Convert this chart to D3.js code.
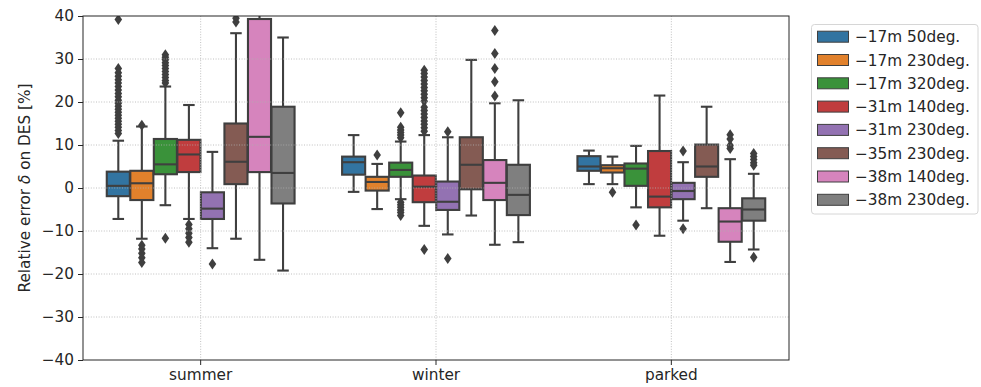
<!DOCTYPE html>
<html><head><meta charset="utf-8">
<script src="https://cdn.jsdelivr.net/npm/d3@7"></script>
<style>body{margin:0;background:#fff;} text{font-family:"DejaVu Sans",sans-serif;}</style>
</head><body>
<svg id="chart" width="981" height="387"></svg>
<script>
const categories = ["summer", "winter", "parked"];
const series = ["\u221217m 50deg.", "\u221217m 230deg.", "\u221217m 320deg.", "\u221231m 140deg.", "\u221231m 230deg.", "\u221235m 230deg.", "\u221238m 140deg.", "\u221238m 230deg."];
const colors = ["#3274a1", "#e1812c", "#3a923a", "#c03d3e", "#9372b2", "#845b53", "#d684bd", "#7f7f7f"];
const yTicks = [-40, -30, -20, -10, 0, 10, 20, 30, 40];

// [whiskerLow, q1, median, q3, whiskerHigh] per category per series
const summerStats = [
  [-7.2, -1.9, 0.5, 3.8, 11.0],
  [-11.8, -2.8, 1.1, 4.0, 14.3],
  [-4.0, 3.2, 5.5, 11.4, 23.6],
  [-7.2, 3.7, 7.8, 11.2, 19.3],
  [-14.0, -7.2, -4.8, -1.0, 8.4],
  [-11.8, 0.9, 6.1, 15.0, 36.0],
  [-16.7, 3.7, 11.9, 39.3, 41.0],
  [-19.2, -3.6, 3.5, 18.9, 35.0]
];
const winterStats = [
  [-0.9, 3.1, 6.0, 7.3, 12.3],
  [-4.9, -0.6, 1.4, 2.6, 5.6],
  [-2.6, 2.6, 4.2, 5.9, 10.8],
  [-8.8, -3.3, 0.3, 2.9, 12.3],
  [-10.8, -5.1, -3.2, 1.5, 11.8],
  [-6.4, -0.3, 5.4, 11.8, 29.8],
  [-13.2, -2.8, 1.2, 6.5, 19.7],
  [-12.6, -6.3, -1.6, 5.4, 20.4]
];
const parkedStats = [
  [0.9, 4.0, 5.0, 7.4, 8.7],
  [0.9, 3.6, 4.6, 5.3, 7.3],
  [-4.5, 0.5, 4.5, 5.7, 9.8],
  [-11.1, -4.5, -2.0, 8.6, 21.5],
  [-7.6, -2.6, -0.7, 1.2, 6.0],
  [-4.7, 2.6, 5.0, 10.1, 18.9],
  [-17.2, -12.5, -7.8, -4.7, 6.7],
  [-14.3, -7.6, -5.0, -2.4, 3.3]
];
const summerOutliers = [
  [39.2, 27.8, 26.8, 26.0, 25.2, 24.4, 23.6, 22.8, 22.0, 21.2, 20.4, 19.7, 19.0, 18.3, 17.6, 16.9, 16.2, 15.5, 14.8, 14.1, 13.4, 12.7],
  [14.6, -13.3, -14.2, -15.2, -16.2, -17.3],
  [31.0, 30.4, 29.8, 29.1, 28.5, 27.8, 27.1, 26.4, 25.7, 25.0, 24.4, -11.7],
  [-8.5, -9.5, -10.5, -11.5, -12.6],
  [-17.7],
  [39.5, 38.6],
  [],
  []
];
const winterOutliers = [
  [],
  [7.7],
  [17.5, 14.1, 13.5, 12.9, 12.3, 11.7, -3.3, -3.9, -4.5, -5.1, -5.7, -6.4],
  [27.4, 26.6, 25.8, 25.0, 24.2, 23.4, 22.6, 21.8, 21.0, 20.2, 18.8, 18.0, 17.2, 16.4, 15.6, 14.8, 14.0, 13.2, -14.3],
  [13.1, -16.4],
  [],
  [36.6, 31.3, 27.8, 24.7, 21.4],
  []
];
const parkedOutliers = [
  [],
  [-1.0],
  [-8.6],
  [],
  [8.6, -9.5],
  [],
  [12.4, 11.4, 9.9, 9.2],
  [8.0, 7.3, 6.6, 5.9, 5.3, -16.1]
];
const stats = [summerStats, winterStats, parkedStats];
const outliers = [summerOutliers, winterOutliers, parkedOutliers];

const svg = d3.select("#chart");
const L = 83, R = 789, T = 16, B = 360;
const edge = "#3f3f3f";
const FS = 15.3;

const x = d3.scaleBand().domain(categories).range([L, R]).paddingInner(0).paddingOuter(0);
const y = d3.scaleLinear().domain([-40, 40]).range([B, T]);
const groupW = x.bandwidth() * 0.8;
const hue = d3.scaleBand().domain(series).range([-groupW / 2, groupW / 2]);
const boxW = hue.bandwidth() * 0.98;

svg.append("defs").append("clipPath").attr("id", "clip")
  .append("rect").attr("x", L).attr("y", T).attr("width", R - L).attr("height", B - T);

const plot = svg.append("g").attr("clip-path", "url(#clip)");

categories.forEach((cat, ci) => {
  series.forEach((s, si) => {
    const st = stats[ci][si];
    const cx = x(cat) + x.bandwidth() / 2 + hue(s) + hue.bandwidth() / 2;
    const g = plot.append("g");
    g.append("line").attr("x1", cx).attr("x2", cx).attr("y1", y(st[0])).attr("y2", y(st[1]))
      .attr("stroke", edge).attr("stroke-width", 2.1);
    g.append("line").attr("x1", cx).attr("x2", cx).attr("y1", y(st[3])).attr("y2", y(st[4]))
      .attr("stroke", edge).attr("stroke-width", 2.1);
    [st[0], st[4]].forEach(v => {
      g.append("line").attr("x1", cx - boxW / 4).attr("x2", cx + boxW / 4).attr("y1", y(v)).attr("y2", y(v))
        .attr("stroke", edge).attr("stroke-width", 2.1);
    });
    g.append("rect").attr("x", cx - boxW / 2).attr("width", boxW)
      .attr("y", y(st[3])).attr("height", y(st[1]) - y(st[3]))
      .attr("fill", colors[si]).attr("stroke", edge).attr("stroke-width", 2.1);
    g.append("line").attr("x1", cx - boxW / 2).attr("x2", cx + boxW / 2).attr("y1", y(st[2])).attr("y2", y(st[2]))
      .attr("stroke", edge).attr("stroke-width", 2.1);
    outliers[ci][si].forEach(v => {
      const py = y(v);
      g.append("path").attr("d", `M${cx},${py - 5.5}L${cx + 3.8},${py}L${cx},${py + 5.5}L${cx - 3.8},${py}Z`)
        .attr("fill", edge);
    });
  });
});

// grid (drawn over boxes like the reference)
const grid = svg.append("g").attr("stroke", "#b0b0b0").attr("stroke-width", 0.8).attr("stroke-dasharray", "1,1.6");
yTicks.forEach(t => {
  if (t === 40 || t === -40) return;
  grid.append("line").attr("x1", L).attr("x2", R).attr("y1", y(t)).attr("y2", y(t));
});
categories.forEach(c => {
  const cx = x(c) + x.bandwidth() / 2;
  grid.append("line").attr("x1", cx).attr("x2", cx).attr("y1", T).attr("y2", B);
});

// axes
const yAxis = d3.axisLeft(y).tickValues(yTicks).tickSize(5).tickPadding(4)
  .tickFormat(d => d < 0 ? "\u2212" + Math.abs(d) : String(d));
const gy = svg.append("g").attr("transform", `translate(${L},0)`).call(yAxis);
gy.select(".domain").remove();
gy.selectAll("text").attr("font-size", FS).attr("fill", "#262626").attr("font-family", "DejaVu Sans");
gy.selectAll("line").attr("stroke", "#262626").attr("stroke-width", 1);

const xAxis = d3.axisBottom(x).tickSize(5).tickPadding(4);
const gx = svg.append("g").attr("transform", `translate(0,${B})`).call(xAxis);
gx.select(".domain").remove();
gx.selectAll("text").attr("font-size", FS).attr("fill", "#262626").attr("font-family", "DejaVu Sans");
gx.selectAll("line").attr("stroke", "#262626").attr("stroke-width", 1);

svg.append("rect").attr("x", L).attr("y", T).attr("width", R - L).attr("height", B - T)
  .attr("fill", "none").attr("stroke", "#262626").attr("stroke-width", 1);

// y label
const yl = svg.append("text").attr("transform", `translate(30,${(T + B) / 2}) rotate(-90)`)
  .attr("text-anchor", "middle").attr("font-size", FS).attr("fill", "#262626");
yl.append("tspan").text("Relative error ");
yl.append("tspan").attr("font-style", "italic").text("\u03b4");
yl.append("tspan").text(" on DES [%]");

// legend
const lg = svg.append("g");
lg.append("rect").attr("x", 811.5).attr("y", 24.5).attr("width", 166.5).attr("height", 189.5).attr("rx", 3)
  .attr("fill", "#fff").attr("fill-opacity", 0.8).attr("stroke", "#d6d6d6").attr("stroke-width", 1);
series.forEach((s, i) => {
  const cy = 36.7 + i * 23.3;
  lg.append("rect").attr("x", 817.5).attr("y", cy - 5.5).attr("width", 31).attr("height", 11)
    .attr("fill", colors[i]).attr("stroke", edge).attr("stroke-width", 1);
  lg.append("text").attr("x", 855).attr("y", cy).attr("dy", "0.36em").attr("font-size", FS)
    .attr("fill", "#262626").text(s);
});
</script>
</body></html>
